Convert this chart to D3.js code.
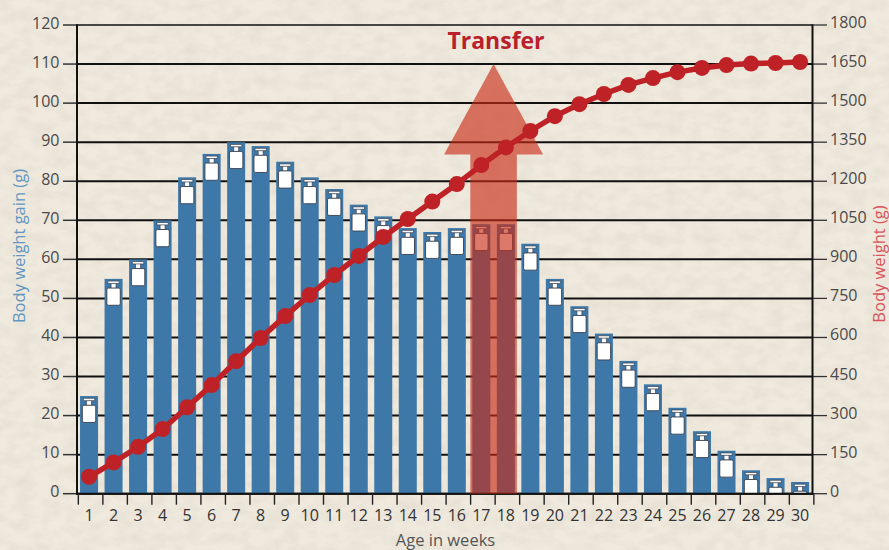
<!DOCTYPE html>
<html><head><meta charset="utf-8">
<style>html,body{margin:0;padding:0;background:#ede6db}svg{display:block}text{font-family:"Open Sans",sans-serif}</style>
<script src="https://cdn.jsdelivr.net/npm/d3@7/dist/d3.min.js"></script>
</head><body><svg id="c" width="889" height="550"></svg>
<script>
const weeks = d3.range(1, 31);
const gain = [25,55,60,70,81,87,90,89,85,81,78,74,71,68,67,68,69,69,64,55,48,41,34,28,22,16,11,6,4,3];
const weight = [65,120,180,248,332,417,509,598,682,763,840,913,986,1055,1122,1189,1262,1330,1393,1450,1496,1535,1570,1596,1619,1635,1646,1652,1654,1658];
const gainTicks = d3.range(0, 121, 10);
const weightTicks = d3.range(0, 1801, 150);
const transferFrom = 17, transferTo = 18;
const arrowTip = 110, arrowShoulder = 87;

const svg = d3.select("#c");
const defs = svg.append("defs");
const f = defs.append("filter").attr("id","paper").attr("x",0).attr("y",0).attr("width","100%").attr("height","100%");
f.append("feTurbulence").attr("type","fractalNoise").attr("baseFrequency","0.06 0.09").attr("numOctaves",5).attr("seed",11);
f.append("feColorMatrix").attr("values","0 0 0 0 0.62  0 0 0 0 0.55  0 0 0 0 0.44  0.9 0 0 0 -0.33");
svg.append("rect").attr("width",889).attr("height",550).attr("fill","#efe9de");
svg.append("rect").attr("width",889).attr("height",550).attr("filter","url(#paper)").attr("opacity",.55);

const pLeft = 76.8, pRight = 812.3, pTop = 25, pBottom = 493.7;
const x = d3.scaleBand().domain(weeks).range([pLeft, pRight]).paddingInner(.265).paddingOuter(.132);
const xc = d => x(d) + x.bandwidth()/2;
const yL = d3.scaleLinear().domain([0,120]).range([pBottom, pTop]);
const yR = d3.scaleLinear().domain([0,1800]).range([pBottom, pTop]);

// gridlines and side ticks
svg.append("g").selectAll("line").data(gainTicks).join("line")
  .attr("x1",63).attr("x2",77).attr("y1",yL).attr("y2",yL).attr("stroke","#333").attr("stroke-width",1.5);
svg.append("g").selectAll("line").data(gainTicks).join("line")
  .attr("x1",77).attr("x2",812).attr("y1",yL).attr("y2",yL).attr("stroke","#111")
  .attr("stroke-width",d=>d===120?1.4:2);
svg.append("g").selectAll("line").data(weightTicks).join("line")
  .attr("x1",812).attr("x2",827).attr("y1",yR).attr("y2",yR).attr("stroke","#333").attr("stroke-width",1.3);

// bars
svg.append("g").selectAll("rect").data(weeks).join("rect")
  .attr("x",d=>x(d)).attr("width",x.bandwidth())
  .attr("y",(d,i)=>yL(gain[i])).attr("height",(d,i)=>pBottom-yL(gain[i])).attr("fill","#3d78a8");

// weight icons, clipped to the baseline
defs.append("clipPath").attr("id","plot").append("rect").attr("x",pLeft).attr("y",0).attr("width",pRight-pLeft).attr("height",pBottom);
const icons = svg.append("g").attr("clip-path","url(#plot)").selectAll("g").data(weeks).join("g")
  .attr("transform",(d,i)=>`translate(${xc(d)},${yL(gain[i])+1})`);
icons.append("path").attr("d","M-2.5 3V8.5H2.5V3Z").attr("fill","#fff").attr("stroke","#3a3f4c").attr("stroke-width",.7);
icons.append("path").attr("d","M-5.7 1.2H5.7V3.6H-5.7Z").attr("fill","#fff").attr("stroke","#3a3f4c").attr("stroke-width",.7);
icons.append("rect").attr("x",-6.7).attr("y",8.2).attr("width",13.4).attr("height",17.2).attr("rx",1.6).attr("fill","#fff").attr("stroke","#3a3f4c").attr("stroke-width",.9);

// axes frame
svg.append("line").attr("x1",77).attr("x2",77).attr("y1",pTop-.7).attr("y2",pBottom+1).attr("stroke","#111").attr("stroke-width",2);
svg.append("line").attr("x1",812.5).attr("x2",812.5).attr("y1",pTop-.7).attr("y2",pBottom+1).attr("stroke","#111").attr("stroke-width",2);
svg.append("line").attr("x1",76).attr("x2",813).attr("y1",pBottom).attr("y2",pBottom).attr("stroke","#111").attr("stroke-width",2);
const tickX = d => (d<31 ? x(d) : x(30)+x.step()) - 1.7;
svg.append("g").selectAll("line").data(weeks.concat([31])).join("line")
  .attr("x1",tickX).attr("x2",tickX)
  .attr("y1",pBottom).attr("y2",pBottom+11).attr("stroke","#222").attr("stroke-width",1.4);

// arrow
const ax = (xc(transferFrom) + xc(transferTo))/2;
const shaft = (xc(transferTo)-xc(transferFrom))/2 + 11;
const headW = 49.5;
const arrowPts = [[ax,yL(arrowTip)],[ax+headW,yL(arrowShoulder)+.5],[ax+shaft,yL(arrowShoulder)+.5],[ax+shaft,pBottom],[ax-shaft,pBottom],[ax-shaft,yL(arrowShoulder)+.5],[ax-headW,yL(arrowShoulder)+.5]];
svg.append("path").attr("d",d3.line()(arrowPts)+"Z").attr("fill","#c92b14").attr("opacity",.63);

// line
svg.append("path").datum(weeks).attr("fill","none").attr("stroke","#bf2226").attr("stroke-width",5.5)
  .attr("d",d3.line().x(xc).y((d,i)=>yR(weight[i])));
svg.append("g").selectAll("circle").data(weeks).join("circle")
  .attr("cx",xc).attr("cy",(d,i)=>yR(weight[i])).attr("r",8).attr("fill","#bf2226");

// labels
const num = {"font-size":16,fill:"#4a4a4a"};
function style(s,o){for(const k in o)s.attr(k,o[k]);return s;}
style(svg.append("g").selectAll("text").data(gainTicks).join("text")
  .attr("x",59.5).attr("y",d=>yL(d)+3.5).attr("text-anchor","end").text(d=>d),num);
style(svg.append("g").selectAll("text").data(weightTicks).join("text")
  .attr("x",830).attr("y",d=>yR(d)+3).attr("text-anchor","start").text(d=>d),num);
style(svg.append("g").selectAll("text").data(weeks).join("text")
  .attr("x",xc).attr("y",521).attr("text-anchor","middle").text(d=>d),{"font-size":16,fill:"#333"});
svg.append("text").attr("x",445.5).attr("y",545.5).attr("text-anchor","middle").attr("font-size",16.5).attr("fill","#555").text("Age in weeks");
svg.append("text").attr("transform","translate(25,246) rotate(-90)").attr("text-anchor","middle").attr("font-size",16.5).attr("fill","#5f97c2").text("Body weight gain (g)");
svg.append("text").attr("transform","translate(885,264) rotate(-90)").attr("text-anchor","middle").attr("font-size",16.5).attr("fill","#d9545a").text("Body weight (g)");
svg.append("text").attr("x",496).attr("y",49).attr("text-anchor","middle").attr("font-size",23).attr("font-weight",700).attr("fill","#b8202c").text("Transfer");
</script></body></html>
